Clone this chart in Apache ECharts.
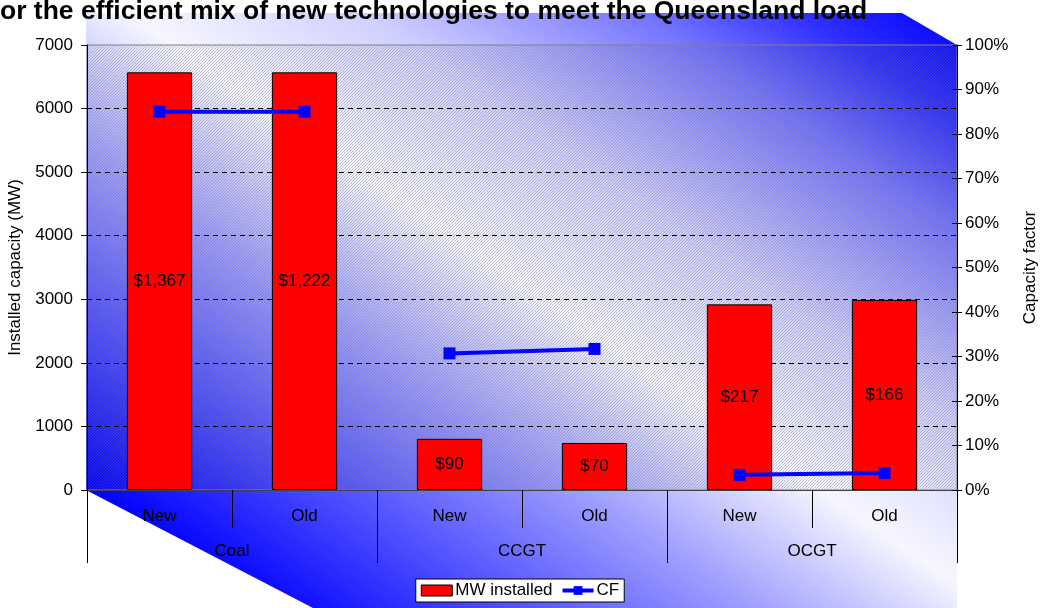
<!DOCTYPE html>
<html>
<head>
<meta charset="utf-8">
<script src="https://cdn.jsdelivr.net/npm/echarts@6/dist/echarts.min.js"></script>
<style>
html,body{margin:0;padding:0;background:#fff;}
#chart{width:1040px;height:608px;}
</style>
</head>
<body>
<div id="chart"></div>
<script>
// ---- data ----
var titleText = 'or the efficient mix of new technologies to meet the Queensland load';
var subCategories = ['New', 'Old', 'New', 'Old', 'New', 'Old'];
var groupCategories = ['Coal', 'CCGT', 'OCGT'];
var mwInstalled = [6570, 6570, 805, 740, 2920, 2990];
var costLabels = ['$1,367', '$1,222', '$90', '$70', '$217', '$166'];
var cfCoal = [0.85, 0.85, null, null, null, null];
var cfCCGT = [null, null, 0.307, 0.317, null, null];
var cfOCGT = [null, null, null, null, 0.034, 0.038];
var leftTicks = {min: 0, max: 7000, interval: 1000};
var rightTicks = {min: 0, max: 1, interval: 0.1};

// ---- styling helpers ----
var FONT = 'Liberation Sans, Arial, sans-serif';
function hatch() {
  var c = document.createElement('canvas');
  c.width = 3; c.height = 3;
  var ctx = c.getContext('2d');
  ctx.fillStyle = 'rgba(110,110,110,0.40)';
  for (var i = 0; i < 3; i++) ctx.fillRect(i, 2 - i, 1, 1);
  return c;
}

var chart = echarts.init(document.getElementById('chart'), null, {renderer: 'canvas'});

var cfSeries = [cfCoal, cfCCGT, cfOCGT].map(function (d) {
  return {
    name: 'CF', type: 'line', yAxisIndex: 1, data: d,
    symbol: 'rect', symbolSize: 12, connectNulls: false,
    lineStyle: {color: '#0000ff', width: 4},
    itemStyle: {color: '#0000ff'},
    z: 5, animation: false
  };
});

var option = {
  animation: false,
  textStyle: {fontFamily: FONT},
  grid: {left: 87, right: 83, top: 45, bottom: 118, show: true, containLabel: false,
         outerBoundsMode: 'none',
         borderColor: '#808080', borderWidth: 1, backgroundColor: 'transparent'},
  graphic: [
    {type: 'polygon', z: -10, silent: true,
     shape: {points: [[86, 13], [902, 13], [957, 45], [957, 608], [313, 608], [86, 490]]},
     style: {fill: {type: 'linear', x: 787, y: -103, x2: 285, y2: 627, global: true,
       colorStops: [
         {offset: 0, color: '#0000ff'},
         {offset: 0.1, color: '#3030ff'},
         {offset: 0.2, color: '#7474ff'},
         {offset: 0.38, color: '#d0d0ff'},
         {offset: 0.53, color: '#f6f6ff'},
         {offset: 0.68, color: '#a0a0ff'},
         {offset: 0.84, color: '#5050ff'},
         {offset: 1, color: '#0000ff'}
       ]}}},
    {type: 'rect', z: -9, silent: true,
     shape: {x: 87, y: 45, width: 870, height: 445},
     style: {fill: {type: 'pattern', image: hatch(), repeat: 'repeat'}}},
    {type: 'text', z: 10, silent: true,
     style: {text: titleText, x: 0, y: 12, verticalAlign: 'middle', font: 'bold 26.5px ' + FONT, fill: '#000'}}
  ],
  legend: {
    data: [
      {name: 'MW installed', icon: 'rect', itemStyle: {color: '#ff0000', borderColor: '#000', borderWidth: 1}},
      {name: 'CF', lineStyle: {width: 4, color: '#0000ff'}, itemStyle: {color: '#0000ff'}}
    ],
    left: 'center', top: 579,
    backgroundColor: '#ffffff', borderColor: '#000', borderWidth: 1,
    padding: [3, 5, 3, 5], itemGap: 8, itemWidth: 31, itemHeight: 11,
    textStyle: {fontSize: 17, color: '#000', fontFamily: FONT, padding: [0, 0, 0, -2]}
  },
  xAxis: [
    {type: 'category', data: subCategories, position: 'bottom',
     axisLine: {show: true, lineStyle: {color: '#404040', width: 1}},
     axisTick: {show: true, interval: 0, length: 38, lineStyle: {color: '#000'}},
     axisLabel: {fontSize: 17, color: '#000', margin: 18, fontFamily: FONT, interval: 0},
     splitLine: {show: false}},
    {type: 'category', data: groupCategories, position: 'bottom', offset: 0,
     axisLine: {show: false},
     axisTick: {show: true, interval: 0, length: 73, lineStyle: {color: '#000'}},
     axisLabel: {fontSize: 17, color: '#000', margin: 53, fontFamily: FONT, interval: 0},
     splitLine: {show: false}}
  ],
  yAxis: [
    {type: 'value', min: leftTicks.min, max: leftTicks.max, interval: leftTicks.interval,
     name: 'Installed capacity (MW)', nameLocation: 'middle', nameGap: 55, nameRotate: 90,
     nameTextStyle: {fontSize: 17, color: '#000', fontFamily: FONT},
     axisLine: {show: true, lineStyle: {color: '#000'}},
     axisTick: {show: true, length: 6, lineStyle: {color: '#000'}},
     axisLabel: {fontSize: 17, color: '#000', margin: 14, fontFamily: FONT,
       formatter: function (v) { return String(v); }},
     splitLine: {show: true, lineStyle: {color: ['#000', '#000', '#000', '#000', '#000', '#000', '#000', 'transparent'], type: [5, 4], width: 1}}},
    {type: 'value', min: rightTicks.min, max: rightTicks.max, interval: rightTicks.interval,
     position: 'right',
     name: 'Capacity factor', nameLocation: 'middle', nameGap: 65, nameRotate: 90,
     nameTextStyle: {fontSize: 17, color: '#000', fontFamily: FONT},
     axisLine: {show: true, lineStyle: {color: '#000'}},
     axisTick: {show: true, length: 5, lineStyle: {color: '#000'}},
     axisLabel: {fontSize: 17, color: '#000', margin: 8, fontFamily: FONT,
       formatter: function (v) { return Math.round(v * 100) + '%'; }},
     splitLine: {show: false}},
    {type: 'value', min: rightTicks.min, max: rightTicks.max, interval: rightTicks.interval,
     position: 'right', offset: 0,
     axisLine: {show: false},
     axisTick: {show: true, inside: true, length: 5, lineStyle: {color: '#000'}},
     axisLabel: {show: false},
     splitLine: {show: false}}
  ],
  series: [
    {name: 'MW installed', type: 'bar', data: mwInstalled, barWidth: '45%',
     itemStyle: {color: '#ff0000', borderColor: '#000', borderWidth: 1},
     label: {show: true, position: 'inside', fontSize: 17, color: '#000', fontFamily: FONT,
       formatter: function (p) { return costLabels[p.dataIndex]; }},
     z: 3}
  ].concat(cfSeries)
};
chart.setOption(option);
</script>
</body>
</html>
